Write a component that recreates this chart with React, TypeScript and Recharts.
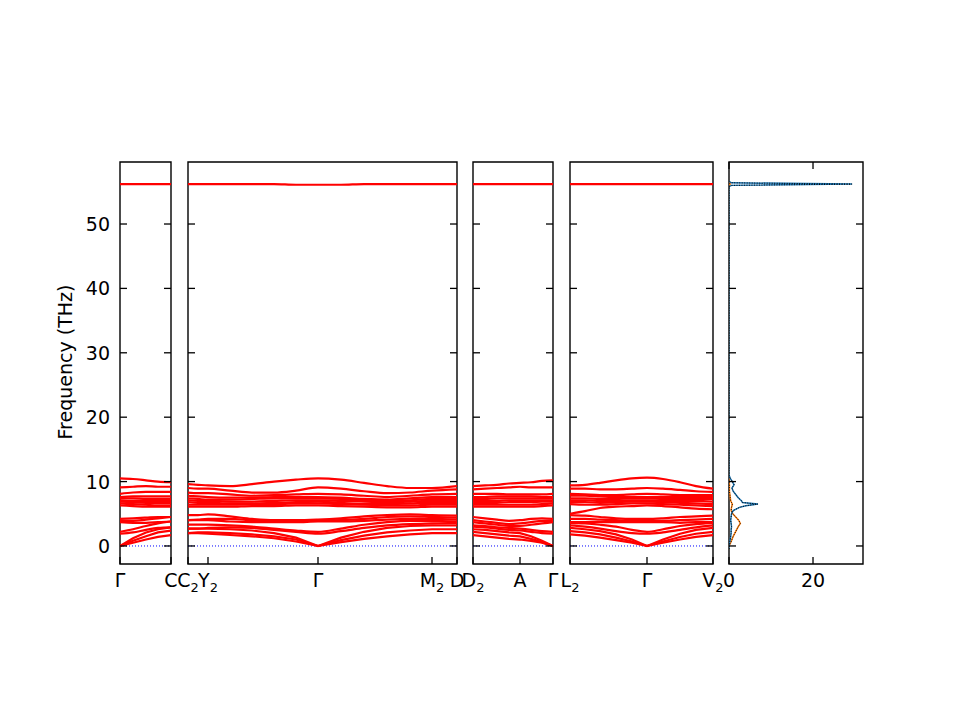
import React from 'react';
import { LineChart, Line, XAxis, YAxis, ReferenceArea, ReferenceLine } from 'recharts';

const FREQ_MIN = -2.8;
const FREQ_MAX = 59.63;
const FREQ_TICKS = [0, 10, 20, 30, 40, 50];

// Γ – C
const gcX = [0, 13, 26, 38, 51];
const gcTicks = [0, 51];
const gcLabels = ['Γ', 'C'];
const gcBands = [
  [0, 0.5, 1.0, 1.4, 1.7],
  [0, 0.8, 1.5, 2.1, 2.4],
  [0, 1.2, 2.1, 2.6, 2.9],
  [1.9, 2.1, 2.5, 2.8, 2.9],
  [2.2, 2.6, 3.1, 3.5, 3.8],
  [3.7, 3.6, 3.6, 3.7, 3.8],
  [3.9, 3.9, 4.1, 4.3, 4.5],
  [4.2, 4.3, 4.4, 4.5, 4.5],
  [6.3, 6.2, 6.1, 6.1, 6.1],
  [6.6, 6.5, 6.4, 6.3, 6.3],
  [6.9, 6.8, 6.7, 6.7, 6.7],
  [7.1, 7.0, 7.0, 7.0, 7.0],
  [7.4, 7.4, 7.3, 7.3, 7.3],
  [7.6, 7.7, 7.7, 7.7, 7.7],
  [8.1, 8.3, 8.4, 8.4, 8.4],
  [9.1, 9.2, 9.3, 9.2, 9.2],
  [10.5, 10.4, 10.2, 10.0, 9.9],
  [56.2, 56.2, 56.2, 56.2, 56.2],
];

// C2 – Y2 – Γ – M2 – D
const cyX = [0, 10, 20, 42, 64, 86, 108, 130, 153, 176, 199, 222, 244, 269];
const cyTicks = [0, 20, 130, 244, 269];
const cyLabels = ['C_2', 'Y_2', 'Γ', 'M_2', 'D'];
const cyBands = [
  [2.0, 2.0, 1.9, 1.7, 1.5, 1.2, 0.7, 0, 0.6, 1.1, 1.5, 1.8, 2.0, 2.0],
  [2.0, 2.1, 2.1, 2.0, 1.8, 1.5, 1.0, 0, 0.9, 1.6, 2.1, 2.4, 2.6, 2.6],
  [2.7, 2.7, 2.7, 2.6, 2.4, 2.0, 1.3, 0, 1.3, 2.2, 2.8, 3.1, 3.2, 3.2],
  [2.7, 2.7, 2.8, 2.9, 2.8, 2.5, 2.2, 1.9, 2.3, 2.8, 3.2, 3.4, 3.5, 3.6],
  [3.3, 3.3, 3.3, 3.2, 3.0, 2.7, 2.4, 2.2, 2.7, 3.3, 3.7, 3.9, 3.9, 3.8],
  [4.0, 4.0, 4.0, 3.8, 3.7, 3.7, 3.7, 3.8, 3.8, 3.9, 4.1, 4.2, 4.2, 4.1],
  [4.0, 4.1, 4.2, 4.2, 4.0, 3.9, 3.9, 3.9, 4.0, 4.2, 4.5, 4.6, 4.5, 4.4],
  [4.8, 4.8, 4.9, 4.6, 4.2, 4.0, 4.0, 4.1, 4.3, 4.6, 4.8, 4.9, 4.8, 4.7],
  [6.1, 6.1, 6.1, 6.1, 6.2, 6.2, 6.3, 6.3, 6.2, 6.1, 6.0, 6.0, 6.1, 6.1],
  [6.4, 6.4, 6.4, 6.4, 6.5, 6.5, 6.6, 6.6, 6.5, 6.4, 6.3, 6.3, 6.4, 6.4],
  [6.8, 6.7, 6.7, 6.6, 6.6, 6.7, 6.8, 6.9, 6.7, 6.5, 6.5, 6.6, 6.7, 6.7],
  [7.1, 7.0, 7.0, 6.9, 6.9, 7.0, 7.1, 7.1, 7.0, 6.9, 6.8, 6.9, 7.0, 7.0],
  [7.4, 7.3, 7.2, 7.2, 7.3, 7.4, 7.4, 7.4, 7.3, 7.1, 7.0, 7.1, 7.3, 7.3],
  [7.8, 7.7, 7.6, 7.5, 7.5, 7.6, 7.6, 7.6, 7.5, 7.3, 7.2, 7.4, 7.6, 7.6],
  [8.3, 8.2, 8.2, 8.0, 7.8, 7.9, 8.0, 8.1, 8.0, 7.8, 7.6, 7.8, 8.0, 8.1],
  [9.0, 8.9, 8.9, 8.6, 8.3, 8.3, 8.6, 9.1, 8.9, 8.5, 8.2, 8.3, 8.6, 8.8],
  [9.6, 9.5, 9.4, 9.3, 9.6, 10.0, 10.3, 10.5, 10.3, 9.8, 9.3, 9.0, 9.0, 9.3],
  [56.2, 56.2, 56.2, 56.2, 56.2, 56.2, 56.1, 56.1, 56.1, 56.2, 56.2, 56.2, 56.2, 56.2],
];

// D2 – A – Γ
const daX = [0, 12, 24, 36, 47, 58, 69, 80];
const daTicks = [0, 47, 80];
const daLabels = ['D_2', 'A', 'Γ'];
const daBands = [
  [1.7, 1.5, 1.3, 1.1, 1.0, 0.8, 0.5, 0],
  [2.2, 2.0, 1.8, 1.6, 1.5, 1.1, 0.6, 0],
  [2.6, 2.5, 2.3, 2.1, 2.0, 1.5, 0.8, 0],
  [3.0, 2.9, 2.7, 2.5, 2.4, 2.2, 2.0, 1.9],
  [3.2, 3.1, 2.9, 2.8, 2.7, 2.5, 2.3, 2.2],
  [3.7, 3.5, 3.3, 3.1, 3.1, 3.3, 3.5, 3.7],
  [4.0, 3.8, 3.6, 3.4, 3.5, 3.7, 3.9, 3.9],
  [4.5, 4.3, 4.1, 3.9, 4.0, 4.2, 4.3, 4.2],
  [6.1, 6.1, 6.1, 6.1, 6.1, 6.1, 6.2, 6.3],
  [6.4, 6.4, 6.4, 6.4, 6.4, 6.4, 6.5, 6.6],
  [6.7, 6.7, 6.7, 6.8, 6.8, 6.8, 6.9, 6.9],
  [7.0, 7.0, 7.0, 7.1, 7.1, 7.1, 7.1, 7.1],
  [7.3, 7.3, 7.4, 7.4, 7.4, 7.4, 7.4, 7.4],
  [7.6, 7.6, 7.7, 7.7, 7.7, 7.7, 7.6, 7.6],
  [8.1, 8.1, 8.1, 8.0, 8.0, 8.0, 8.0, 8.1],
  [8.8, 8.9, 9.0, 9.1, 9.2, 9.1, 9.1, 9.1],
  [9.3, 9.4, 9.5, 9.7, 9.8, 9.9, 10.1, 10.2],
  [56.2, 56.2, 56.2, 56.2, 56.2, 56.2, 56.2, 56.2],
];

// L2 – Γ – V2
const lvX = [0, 15, 30, 46, 62, 77, 93, 110, 126, 143];
const lvTicks = [0, 77, 143];
const lvLabels = ['L_2', 'Γ', 'V_2'];
const lvBands = [
  [1.8, 1.6, 1.3, 0.9, 0.5, 0, 0.5, 1.0, 1.4, 1.7],
  [2.3, 2.1, 1.8, 1.3, 0.7, 0, 0.7, 1.4, 1.9, 2.2],
  [2.8, 2.6, 2.3, 1.8, 1.0, 0, 1.0, 1.9, 2.5, 2.8],
  [3.2, 3.0, 2.7, 2.3, 2.0, 1.9, 2.1, 2.5, 2.9, 3.2],
  [3.6, 3.5, 3.3, 3.0, 2.5, 2.2, 2.6, 3.1, 3.4, 3.6],
  [3.7, 3.7, 3.7, 3.7, 3.7, 3.7, 3.7, 3.6, 3.7, 3.7],
  [4.2, 4.2, 4.1, 4.0, 3.9, 3.9, 3.9, 4.0, 4.1, 4.2],
  [4.8, 4.7, 4.5, 4.3, 4.2, 4.2, 4.3, 4.5, 4.6, 4.7],
  [5.0, 5.4, 5.9, 6.1, 6.2, 6.3, 6.2, 6.0, 5.8, 5.7],
  [6.5, 6.4, 6.4, 6.5, 6.6, 6.6, 6.5, 6.4, 6.3, 6.2],
  [6.8, 6.8, 6.7, 6.8, 6.9, 6.9, 6.8, 6.7, 6.6, 6.5],
  [7.1, 7.1, 7.0, 7.0, 7.1, 7.1, 7.0, 7.0, 7.0, 6.9],
  [7.4, 7.4, 7.3, 7.3, 7.4, 7.4, 7.3, 7.3, 7.3, 7.3],
  [7.8, 7.8, 7.7, 7.6, 7.6, 7.6, 7.6, 7.6, 7.6, 7.6],
  [8.1, 8.0, 7.9, 7.9, 8.0, 8.1, 8.0, 7.9, 7.9, 7.9],
  [8.9, 8.9, 8.8, 8.8, 8.9, 9.0, 8.9, 8.7, 8.5, 8.4],
  [9.4, 9.5, 9.8, 10.2, 10.5, 10.6, 10.4, 9.9, 9.3, 8.9],
  [56.2, 56.2, 56.2, 56.2, 56.2, 56.2, 56.2, 56.2, 56.2, 56.2],
];

// phonon DOS
const dosFreq = [-0.5, 0, 0.5, 1, 1.5, 2, 2.5, 3, 3.5, 4, 4.5, 5, 5.5, 6, 6.25, 6.5, 6.75, 7, 7.5, 8, 8.5, 9, 9.5, 10, 10.5, 11, 55.8, 56.0, 56.2, 56.4, 56.6];
const dosBlue = [0, 0, 0.1, 0.3, 0.4, 0.5, 0.5, 0.6, 0.5, 0.4, 0.5, 0.6, 1.0, 2.5, 4.0, 6.9, 3.2, 3.0, 2.2, 1.6, 1.0, 0.7, 1.2, 0.8, 0.3, 0, 0, 0.6, 29.3, 0.6, 0];
const dosOrange = [0, 0, 0.4, 0.7, 1.0, 1.4, 1.8, 2.2, 2.7, 2.3, 1.6, 0.9, 0.5, 0.6, 0.7, 0.8, 0.6, 0.4, 0.3, 0.2, 0.1, 0.1, 0.1, 0, 0, 0, 0, 0, 0.3, 0, 0];
const dosTicks = [0, 20];

const TOP = 162;
const BOTTOM = 564;
const FONT = 'DejaVu Sans';

const panels = [
  { x: gcX, bands: gcBands, ticks: gcTicks, labels: gcLabels, left: 120, width: 51, showY: true },
  { x: cyX, bands: cyBands, ticks: cyTicks, labels: cyLabels, left: 188, width: 269, showY: false },
  { x: daX, bands: daBands, ticks: daTicks, labels: daLabels, left: 473, width: 80, showY: false },
  { x: lvX, bands: lvBands, ticks: lvTicks, labels: lvLabels, left: 570, width: 143, showY: false },
];

function makeYTick(left: number, width: number, showLabel: boolean) {
  return (props: any) => {
    const { y, payload } = props;
    return (
      <g>
        <line x1={left} x2={left + 7} y1={y} y2={y} stroke="#000" strokeWidth={1.3} />
        <line x1={left + width - 7} x2={left + width} y1={y} y2={y} stroke="#000" strokeWidth={1.3} />
        {showLabel && (
          <text x={left - 10} y={y} textAnchor="end" dominantBaseline="central" fontSize={19} fontFamily={FONT} fill="#000">
            {payload.value}
          </text>
        )}
      </g>
    );
  };
}

function makeXTick(ticks: number[], labels: string[], topTicks: boolean) {
  return (props: any) => {
    const { x, payload } = props;
    const idx = ticks.indexOf(payload.value);
    const [main, sub] = (labels[idx] ?? '').split('_');
    return (
      <g>
        <line x1={x} x2={x} y1={BOTTOM} y2={BOTTOM - 7} stroke="#000" strokeWidth={1.3} />
        {topTicks && <line x1={x} x2={x} y1={TOP} y2={TOP + 7} stroke="#000" strokeWidth={1.3} />}
        <text x={x} y={BOTTOM + 23} textAnchor="middle" fontSize={19} fontFamily={FONT} fill="#000">
          {main}
          {sub && (
            <tspan fontSize={13} dy={5}>
              {sub}
            </tspan>
          )}
        </text>
      </g>
    );
  };
}

function BandPanel({ p }: { p: (typeof panels)[number] }) {
  const rows = p.x.map((x, j) => {
    const r: Record<string, number> = { x };
    p.bands.forEach((b, i) => (r['b' + i] = b[j]));
    return r;
  });
  const xMax = p.x[p.x.length - 1];
  return (
    <div style={{ position: 'absolute', left: 0, top: 0 }}>
      <LineChart
        width={960}
        height={720}
        data={rows}
        margin={{ top: TOP, bottom: 720 - BOTTOM - 40, left: p.left - 60, right: 960 - p.left - p.width }}
      >
        <XAxis
          type="number"
          dataKey="x"
          domain={[0, xMax]}
          ticks={p.ticks}
          interval={0}
          allowDataOverflow
          height={40}
          axisLine={false}
          tickLine={false}
          tick={makeXTick(p.ticks, p.labels, false)}
        />
        <YAxis
          type="number"
          domain={[FREQ_MIN, FREQ_MAX]}
          ticks={FREQ_TICKS}
          interval={0}
          allowDataOverflow
          width={60}
          axisLine={false}
          tickLine={false}
          tick={makeYTick(p.left, p.width, p.showY)}
        />
        <ReferenceLine y={0} stroke="#0000ff" strokeWidth={1} strokeDasharray="1 2" />
        {p.bands.map((_, i) => (
          <Line
            key={i}
            dataKey={'b' + i}
            type={i < 3 ? 'linear' : 'monotone'}
            stroke="#ff0000"
            strokeWidth={2.2}
            dot={false}
            activeDot={false}
            isAnimationActive={false}
          />
        ))}
        <ReferenceArea x1={0} x2={xMax} y1={FREQ_MIN} y2={FREQ_MAX} fill="none" stroke="#000" strokeWidth={1.4} />
      </LineChart>
    </div>
  );
}

function DosPanel() {
  const rows = dosFreq.map((f, j) => ({ f, blue: dosBlue[j], orange: dosOrange[j] }));
  const left = 729;
  const width = 134;
  const xMax = 31.9;
  return (
    <div style={{ position: 'absolute', left: 0, top: 0 }}>
      <LineChart
        width={960}
        height={720}
        layout="vertical"
        data={rows}
        margin={{ top: TOP, bottom: 720 - BOTTOM - 40, left: left - 60, right: 960 - left - width }}
      >
        <XAxis
          type="number"
          domain={[0, xMax]}
          ticks={dosTicks}
          interval={0}
          allowDataOverflow
          height={40}
          axisLine={false}
          tickLine={false}
          tick={makeXTick(dosTicks, ['0', '20'], true)}
        />
        <YAxis
          type="number"
          dataKey="f"
          domain={[FREQ_MIN, FREQ_MAX]}
          ticks={FREQ_TICKS}
          interval={0}
          allowDataOverflow
          reversed
          width={60}
          axisLine={false}
          tickLine={false}
          tick={makeYTick(left, width, false)}
        />
        <Line dataKey="orange" type="linear" stroke="#ff7f0e" strokeWidth={1.5} dot={false} activeDot={false} isAnimationActive={false} />
        <Line dataKey="blue" type="linear" stroke="#1f77b4" strokeWidth={1.5} dot={false} activeDot={false} isAnimationActive={false} />
        <Line dataKey="orange" type="linear" stroke="#000" strokeWidth={1} strokeDasharray="1 1.5" dot={false} activeDot={false} isAnimationActive={false} />
        <Line dataKey="blue" type="linear" stroke="#000" strokeWidth={1} strokeDasharray="1 1.5" dot={false} activeDot={false} isAnimationActive={false} />
        <ReferenceArea x1={0} x2={xMax} y1={FREQ_MIN} y2={FREQ_MAX} fill="none" stroke="#000" strokeWidth={1.4} />
      </LineChart>
    </div>
  );
}

export default function App() {
  return (
    <div style={{ position: 'absolute', left: 0, top: 0, width: 960, height: 720, background: '#fff' }}>
      {panels.map((p, i) => (
        <BandPanel key={i} p={p} />
      ))}
      <DosPanel />
      <svg width={960} height={720} style={{ position: 'absolute', left: 0, top: 0, pointerEvents: 'none' }}>
        <text x={72} y={362} transform="rotate(-90, 72, 362)" textAnchor="middle" fontSize={19} fontFamily={FONT} fill="#000">
          Frequency (THz)
        </text>
      </svg>
    </div>
  );
}
